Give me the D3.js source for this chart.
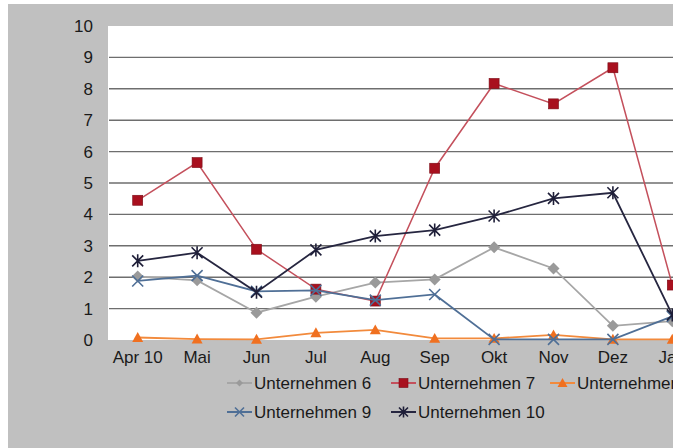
<!DOCTYPE html>
<html>
<head>
<meta charset="utf-8">
<script src="https://cdn.jsdelivr.net/npm/d3@7"></script>
<style>
  body { margin: 0; background: #fff; }
  svg { display: block; font-family: "Liberation Sans", Arial, sans-serif; }
</style>
</head>
<body>
<svg id="chart"></svg>
<script>
// data
const months = ["Apr 10", "Mai", "Jun", "Jul", "Aug", "Sep", "Okt", "Nov", "Dez", "Jan"];
const yTicks = [0, 1, 2, 3, 4, 5, 6, 7, 8, 9, 10];

const u6  = [2.02, 1.9, 0.87, 1.38, 1.83, 1.93, 2.95, 2.28, 0.45, 0.6];
const u7  = [4.45, 5.65, 2.89, 1.62, 1.24, 5.47, 8.17, 7.52, 8.67, 1.75];
const u8  = [0.08, 0.03, 0.02, 0.23, 0.32, 0.05, 0.05, 0.16, 0.02, 0.02];
const u9  = [1.88, 2.05, 1.55, 1.58, 1.27, 1.45, 0.02, 0.02, 0.02, 0.75];
const u10 = [2.52, 2.78, 1.52, 2.87, 3.31, 3.5, 3.95, 4.51, 4.69, 0.8];

const seriesNames = ["Unternehmen 6", "Unternehmen 7", "Unternehmen 8", "Unternehmen 9", "Unternehmen 10"];
const seriesValues = [u6, u7, u8, u9, u10];

const width = 673, height = 448;
const svg = d3.select("#chart").attr("width", width).attr("height", height);

// styling per series
const styles = [
  { line: "#a6a6a6", fill: "#9a9a9a", marker: "diamond", w: 1.8 },
  { line: "#c4505c", fill: "#a8101e", marker: "square", w: 1.5 },
  { line: "#f28a3c", fill: "#f07020", marker: "triangle", w: 1.8 },
  { line: "#4f6f96", fill: "#4f6f96", marker: "x", w: 1.8 },
  { line: "#262640", fill: "#1e1e38", marker: "star", w: 1.8 }
];

// grey chart background
svg.append("rect")
  .attr("x", 8).attr("y", 4)
  .attr("width", width - 8).attr("height", height - 4)
  .attr("fill", "#c0c0c0");

const plotLeft = 108, plotTop = 26, plotBottom = 340;
const step = 59.4;

const x = d3.scaleBand()
  .domain(months)
  .range([plotLeft, plotLeft + step * months.length])
  .padding(0);
const xc = m => x(m) + x.bandwidth() / 2;

const y = d3.scaleLinear().domain([0, 10]).range([plotBottom, plotTop]);

// white plot area
svg.append("rect")
  .attr("x", plotLeft).attr("y", plotTop)
  .attr("width", step * months.length).attr("height", plotBottom - plotTop)
  .attr("fill", "#fff");

// gridlines
svg.append("g")
  .selectAll("line")
  .data(yTicks.filter(d => d > 0 && d < 10))
  .enter().append("line")
  .attr("x1", plotLeft + 1)
  .attr("x2", plotLeft + step * months.length)
  .attr("y1", d => y(d))
  .attr("y2", d => y(d))
  .attr("stroke", "#6e6e6e")
  .attr("stroke-width", 1.4);

// y axis labels
const yAxis = svg.append("g")
  .attr("transform", `translate(${plotLeft},0)`)
  .call(d3.axisLeft(y).tickValues(yTicks).tickSize(0).tickPadding(15).tickFormat(d3.format("d")));
yAxis.select(".domain").remove();
yAxis.selectAll("text").attr("font-size", 17).attr("fill", "#1a1a1a").attr("font-family", "Liberation Sans, Arial, sans-serif");

// x axis labels
const xAxis = svg.append("g")
  .attr("transform", `translate(0,${plotBottom})`)
  .call(d3.axisBottom(x).tickSize(0).tickPadding(11));
xAxis.select(".domain").remove();
xAxis.selectAll("text").attr("font-size", 17).attr("fill", "#1a1a1a").attr("font-family", "Liberation Sans, Arial, sans-serif");

// marker drawing
function drawMarker(sel, type, st, s) {
  if (type === "square") {
    sel.append("rect").attr("x", -s / 2).attr("y", -s / 2).attr("width", s).attr("height", s)
      .attr("fill", st.fill).attr("stroke", "#7a0a14").attr("stroke-width", 0.6);
  } else if (type === "diamond") {
    const r = s / 2 + 1;
    sel.append("path").attr("d", `M0,${-r}L${r},0L0,${r}L${-r},0Z`).attr("fill", st.fill);
  } else if (type === "triangle") {
    const r = s / 2 + 0.5;
    sel.append("path").attr("d", `M0,${-r}L${r},${r * 0.8}L${-r},${r * 0.8}Z`).attr("fill", st.fill);
  } else if (type === "x") {
    const r = s / 2;
    sel.append("path").attr("d", `M${-r},${-r}L${r},${r}M${-r},${r}L${r},${-r}`)
      .attr("stroke", st.fill).attr("stroke-width", 1.6);
  } else if (type === "star") {
    const r = s / 2;
    sel.append("path").attr("d", `M${-r},${-r}L${r},${r}M${-r},${r}L${r},${-r}M0,${-r - 1}L0,${r + 1}`)
      .attr("stroke", st.fill).attr("stroke-width", 1.6);
  }
}

const line = d3.line().x((d, i) => xc(months[i])).y(d => y(d));

const plot = svg.append("g");
seriesValues.forEach((vals, si) => {
  const st = styles[si];
  const g = plot.append("g");
  g.append("path")
    .datum(vals)
    .attr("d", line)
    .attr("fill", "none")
    .attr("stroke", st.line)
    .attr("stroke-width", st.w);
  g.selectAll(".m")
    .data(vals)
    .enter().append("g")
    .attr("transform", (d, i) => `translate(${xc(months[i])},${y(d)})`)
    .each(function() { drawMarker(d3.select(this), st.marker, st, si >= 3 ? 11 : 10); });
});

// legend
const legendCols = [227, 391, 550];
const legendRows = [383, 412];
const legendPos = [[0, 0], [1, 0], [2, 0], [0, 1], [1, 1]];

const legend = svg.append("g");
seriesNames.forEach((name, i) => {
  const st = styles[i];
  const [c, r] = legendPos[i];
  const item = legend.append("g")
    .attr("transform", `translate(${legendCols[c]},${legendRows[r]})`);
  item.append("line").attr("x1", 0).attr("x2", 25).attr("y1", 0).attr("y2", 0)
    .attr("stroke", st.line).attr("stroke-width", 2);
  const mk = item.append("g").attr("transform", "translate(12.5,0)");
  drawMarker(mk, st.marker, st, i === 0 ? 5 : 9);
  item.append("text")
    .attr("x", 27).attr("y", 0).attr("dy", "0.35em")
    .attr("font-size", 17).attr("fill", "#1a1a1a")
    .text(name);
});
</script>
</body>
</html>
